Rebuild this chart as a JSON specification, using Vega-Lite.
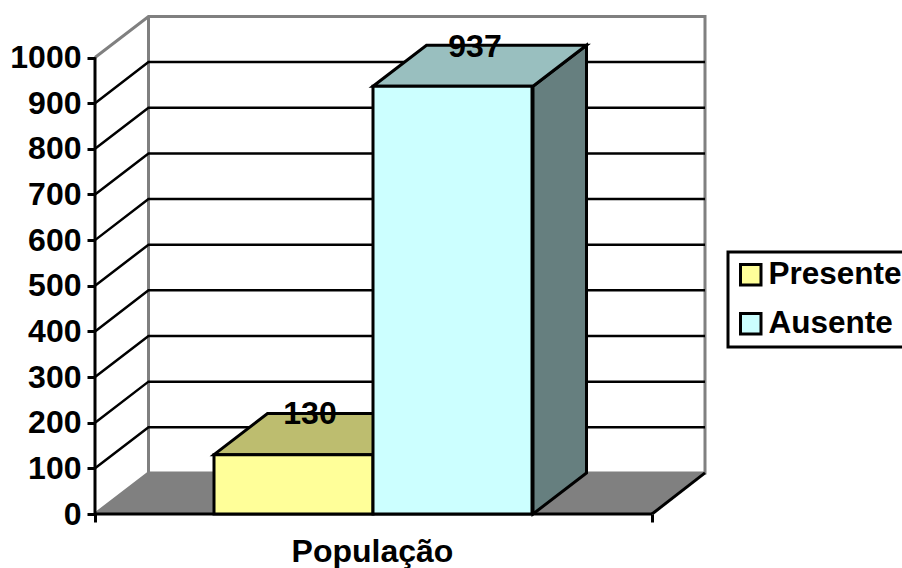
{
"$schema":"https://vega.github.io/schema/vega-lite/v6.json",
"width":610,"height":498,
"autosize":{"type":"none"},
"padding":{"left":95,"top":16,"right":197,"bottom":54},
"background":"white",
"config":{"view":{"stroke":null},"font":"Liberation Sans","legend":{"strokeWidth":3}},
"datasets":{
"frame":[{"part":"top","x":0,"y":1000,"o":1},{"part":"top","x":53.5,"y":1090,"o":2},{"part":"top","x":610,"y":1090,"o":3},{"part":"top","x":610,"y":90,"o":4},{"part":"top","x":53.5,"y":90,"o":5},{"part":"top","x":0,"y":0,"o":6},{"part":"back","x":53.5,"y":90,"o":1},{"part":"back","x":53.5,"y":1090,"o":2}],
"grid":[
{"v":100,"x":0,"y":100},{"v":100,"x":53.5,"y":190},{"v":100,"x":610,"y":190},
{"v":200,"x":0,"y":200},{"v":200,"x":53.5,"y":290},{"v":200,"x":610,"y":290},
{"v":300,"x":0,"y":300},{"v":300,"x":53.5,"y":390},{"v":300,"x":610,"y":390},
{"v":400,"x":0,"y":400},{"v":400,"x":53.5,"y":490},{"v":400,"x":610,"y":490},
{"v":500,"x":0,"y":500},{"v":500,"x":53.5,"y":590},{"v":500,"x":610,"y":590},
{"v":600,"x":0,"y":600},{"v":600,"x":53.5,"y":690},{"v":600,"x":610,"y":690},
{"v":700,"x":0,"y":700},{"v":700,"x":53.5,"y":790},{"v":700,"x":610,"y":790},
{"v":800,"x":0,"y":800},{"v":800,"x":53.5,"y":890},{"v":800,"x":610,"y":890},
{"v":900,"x":0,"y":900},{"v":900,"x":53.5,"y":990},{"v":900,"x":610,"y":990}],
"floor":[{"x":0,"y":0,"y2":0},{"x":53.5,"y":90,"y2":0},{"x":557,"y":90,"y2":0},{"x":610,"y":90,"y2":90}],
"edges":[{"e":"right","x":557,"y":0},{"e":"right","x":610,"y":90},{"e":"front","x":0,"y":0},{"e":"front","x":557,"y":0},{"e":"left","x":0,"y":0},{"e":"left","x":0,"y":1000}],
"topP":[{"x":119,"y":130,"y2":130},{"x":172.5,"y":220,"y2":130},{"x":278,"y":220,"y2":130},{"x":331.5,"y":220,"y2":220}],
"topA":[{"x":278,"y":937,"y2":937},{"x":331.5,"y":1027,"y2":937},{"x":438,"y":1027,"y2":937},{"x":491.5,"y":1027,"y2":1027}],
"sideA":[{"x":438,"y":0,"y2":937},{"x":491.5,"y":90,"y2":1027}],
"bars":[{"series":"Presente","x0":119,"x1":278,"value":130},{"series":"Ausente","x0":278,"x1":437,"value":937}],
"labels":[{"series":"Presente","value":130,"x":215,"y":220},{"series":"Ausente","value":937,"x":380,"y":1022}]
},
"encoding":{
"x":{"field":"x","type":"quantitative","title":"População","scale":{"domain":[0,610],"nice":false,"zero":false},
"axis":{"values":[0,557],"labels":false,"grid":false,"domain":false,"ticks":true,"tickSize":8,"tickWidth":3,"tickColor":"black","titleFont":"Liberation Sans","titleFontWeight":"bold","titleFontSize":32,"titleColor":"black","titleX":277,"titleY":37,"titleAlign":"center","titleBaseline":"middle","zindex":1}},
"y":{"field":"y","type":"quantitative","title":null,"scale":{"domain":[0,1091],"nice":false,"zero":false},
"axis":{"values":[0,100,200,300,400,500,600,700,800,900,1000],"format":"d","grid":false,"domain":false,"tickSize":8,"tickWidth":3,"tickColor":"black","labelFont":"Liberation Sans","labelFontWeight":"bold","labelFontSize":32,"labelColor":"black","labelPadding":6,"labelOverlap":false,"labelFlush":false,"labelBound":false,"zindex":1}}
},
"layer":[
{"data":{"name":"frame"},"mark":{"type":"line","stroke":"#808080","strokeWidth":3,"clip":false},"encoding":{"detail":{"field":"part"},"order":{"field":"o","type":"quantitative"}}},
{"data":{"name":"grid"},"mark":{"type":"line","stroke":"black","strokeWidth":2.5},"encoding":{"detail":{"field":"v"}}},
{"data":{"name":"floor"},"mark":{"type":"area","fill":"#808080","stroke":"#808080","strokeWidth":1},"encoding":{"y2":{"field":"y2"}}},
{"data":{"name":"edges"},"mark":{"type":"line","stroke":"black","strokeWidth":3},"encoding":{"detail":{"field":"e"}}},
{"data":{"name":"topP"},"mark":{"type":"area","fill":"#BDBD6F","stroke":"black","strokeWidth":3},"encoding":{"y2":{"field":"y2"}}},
{"data":{"name":"sideA"},"mark":{"type":"area","fill":"#667F7F","stroke":"black","strokeWidth":3},"encoding":{"y2":{"field":"y2"}}},
{"data":{"name":"topA"},"mark":{"type":"area","fill":"#99BFBF","stroke":"black","strokeWidth":3},"encoding":{"y2":{"field":"y2"}}},
{"data":{"name":"bars"},"mark":{"type":"rect","stroke":"black","strokeWidth":3},"encoding":{
"x":{"field":"x0","type":"quantitative"},"x2":{"field":"x1"},
"y":{"field":"value","type":"quantitative"},"y2":{"datum":0},
"color":{"field":"series","type":"nominal","scale":{"domain":["Presente","Ausente"],"range":["#FFFF99","#CCFFFF"]},
"legend":{"title":null,"orient":"none","legendX":633,"legendY":236,"fillColor":"white","strokeColor":"black","padding":7,"symbolType":"square","symbolSize":420,"symbolStrokeColor":"black","symbolStrokeWidth":3,"symbolOpacity":1,"labelFont":"Liberation Sans","labelFontWeight":"bold","labelFontSize":31.5,"labelColor":"black","labelOffset":2,"rowPadding":16,"labelLimit":300}}}},
{"data":{"name":"labels"},"mark":{"type":"text","font":"Liberation Sans","fontWeight":"bold","fontSize":32,"color":"black","baseline":"middle","align":"center"},"encoding":{"text":{"field":"value","type":"quantitative"}}}
]
}
